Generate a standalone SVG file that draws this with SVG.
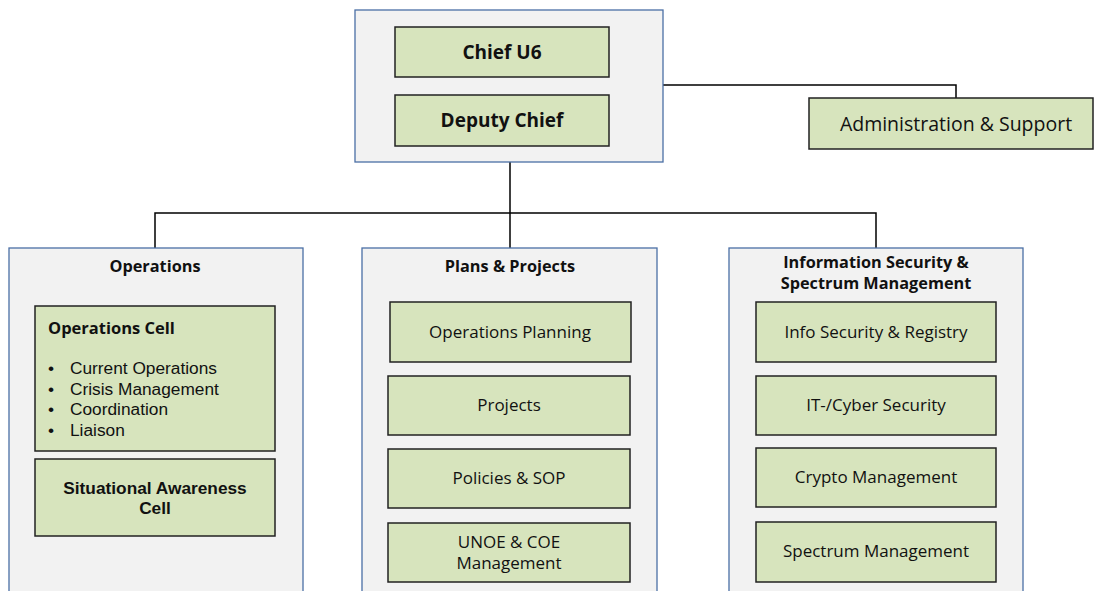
<svg xmlns="http://www.w3.org/2000/svg" width="1094" height="591" viewBox="0 0 1094 591">
<style>
.cont{fill:#f2f2f2;stroke:#4a6fa5;stroke-width:1.3}
.box{fill:#d7e4bd;stroke:#222;stroke-width:1.5}
.conn{fill:none;stroke:#000;stroke-width:1.5}
text{font-family:"Open Sans","Liberation Sans",sans-serif;fill:#111;text-anchor:middle}
.b{font-weight:bold}
.t{font-size:17px}
.tb{font-size:16.5px}
.h{font-size:19px}
.a{font-size:19.5px}
.s{font-size:16.3px}
.l{text-anchor:start}
.lib{font-family:"Liberation Sans",Arial,sans-serif;font-size:17.3px}
</style>
<g id="connectors">
<path class="conn" d="M663 85 H956 V98"/>
<path class="conn" d="M510 162 V248"/>
<path class="conn" d="M155 248 V213 H876 V248"/>
</g>
<g id="top">
<rect class="cont" x="355" y="10" width="308" height="152"/>
</g>
<g id="chief">
<rect class="box" x="395" y="27" width="214" height="50"/>
<text class="b h" x="502" y="59">Chief U6</text>
</g>
<g id="deputy">
<rect class="box" x="395" y="95" width="214" height="51"/>
<text class="b h" x="502" y="127">Deputy Chief</text>
</g>
<g id="admin">
<rect class="box" x="809" y="98" width="284" height="51"/>
<text class="a" x="956" y="131">Administration &amp; Support</text>
</g>
<g id="operations">
<rect class="cont" x="9" y="248" width="294" height="360"/>
<text class="b s" x="155" y="272">Operations</text>
</g>
<g id="ops-cell">
<rect class="box" x="35" y="306" width="240" height="145"/>
<text class="b tb l" x="48" y="334">Operations Cell</text>
<text class="lib l"><tspan x="48" y="374">•</tspan><tspan x="48" y="394.7">•</tspan><tspan x="48" y="415.3">•</tspan><tspan x="48" y="436">•</tspan></text>
<text class="lib l"><tspan x="70" y="374">Current Operations</tspan><tspan x="70" y="394.7">Crisis Management</tspan><tspan x="70" y="415.3">Coordination</tspan><tspan x="70" y="436">Liaison</tspan></text>
</g>
<g id="sit-cell">
<rect class="box" x="35" y="459" width="240" height="77"/>
<text class="b lib"><tspan x="155" y="493.5">Situational Awareness</tspan><tspan x="155" y="514">Cell</tspan></text>
</g>
<g id="plans">
<rect class="cont" x="362" y="248" width="295" height="360"/>
<text class="b s" x="510" y="272">Plans &amp; Projects</text>
</g>
<g id="ops-planning">
<rect class="box" x="390" y="302" width="241" height="60"/>
<text class="t" x="510" y="338">Operations Planning</text>
</g>
<g id="projects">
<rect class="box" x="388" y="376" width="242" height="59"/>
<text class="t" x="509" y="411">Projects</text>
</g>
<g id="policies">
<rect class="box" x="388" y="449" width="242" height="59"/>
<text class="t" x="509" y="484">Policies &amp; SOP</text>
</g>
<g id="unoe">
<rect class="box" x="388" y="523" width="242" height="59"/>
<text class="t"><tspan x="509" y="548">UNOE &amp; COE</tspan><tspan x="509" y="569">Management</tspan></text>
</g>
<g id="infosec">
<rect class="cont" x="729" y="248" width="294" height="360"/>
<text class="b s"><tspan x="876" y="268">Information Security &amp;</tspan><tspan x="876" y="289">Spectrum Management</tspan></text>
</g>
<g id="info-reg">
<rect class="box" x="756" y="302" width="240" height="60"/>
<text class="t" x="876" y="338">Info Security &amp; Registry</text>
</g>
<g id="cyber">
<rect class="box" x="756" y="376" width="240" height="59"/>
<text class="t" x="876" y="411">IT-/Cyber Security</text>
</g>
<g id="crypto">
<rect class="box" x="756" y="448" width="240" height="59"/>
<text class="t" x="876" y="483">Crypto Management</text>
</g>
<g id="spectrum">
<rect class="box" x="756" y="522" width="240" height="60"/>
<text class="t" x="876" y="557">Spectrum Management</text>
</g>
</svg>
